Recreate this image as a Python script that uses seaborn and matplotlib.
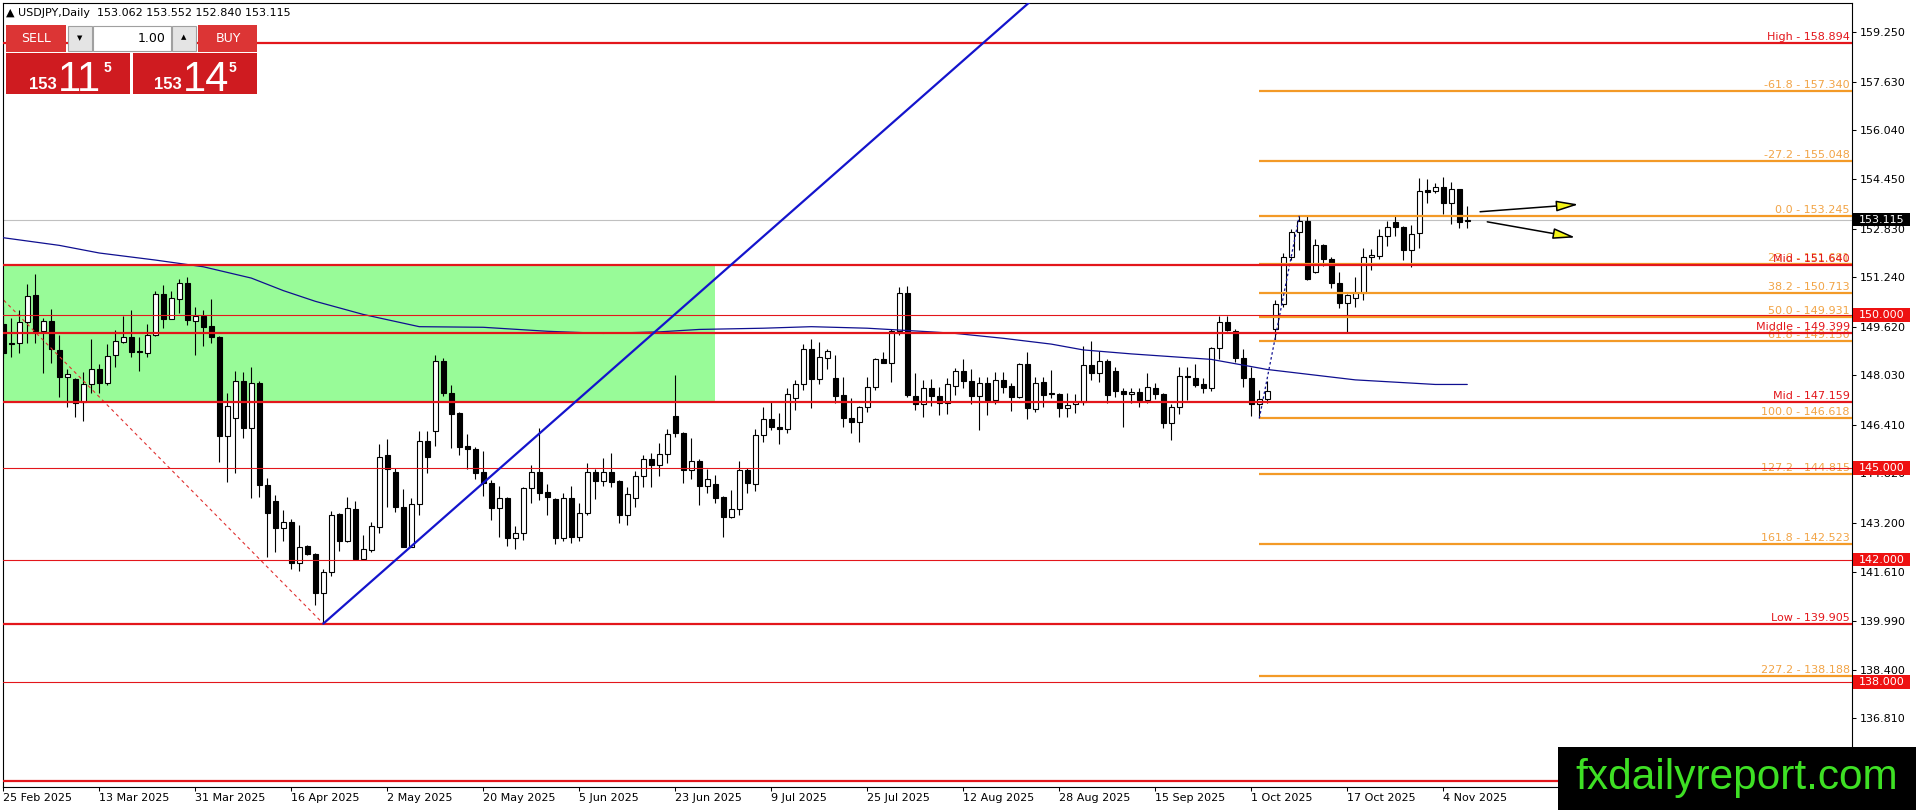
import numpy as np
import matplotlib
matplotlib.use("Agg")
import matplotlib.pyplot as plt
import matplotlib.transforms as mtransforms
from matplotlib.patches import Rectangle
import seaborn as sns

# ---------------- data ----------------
opens = [149.72, 149.10, 149.07, 149.78, 150.65, 149.49, 149.80, 148.86, 147.98, 147.90,
         147.14, 147.74, 148.22, 147.77, 148.68, 149.13, 149.29, 148.82, 148.77, 149.34,
         150.69, 149.88, 150.54, 151.06, 149.81, 149.97, 149.64, 149.29, 146.05, 146.62,
         147.84, 146.30, 147.79, 144.44, 143.92, 143.02, 143.24, 141.88, 142.44, 142.18,
         140.90, 141.58, 143.49, 142.62, 143.65, 142.01, 142.31, 143.08, 145.42, 144.86,
         143.73, 142.42, 143.81, 145.89, 146.22, 148.50, 147.46, 146.79, 145.72, 145.61,
         144.88, 144.50, 143.68, 144.01, 142.70, 142.86, 144.33, 144.88, 144.22, 143.97,
         142.70, 144.01, 142.75, 143.54, 144.86, 144.58, 144.88, 144.57, 143.46, 144.03,
         144.75, 145.28, 145.10, 145.45, 146.70, 146.13, 144.93, 145.24, 144.41, 144.46,
         144.04, 143.41, 143.65, 144.93, 144.46, 146.08, 146.59, 146.35, 146.26, 147.30,
         147.73, 148.89, 147.90, 148.59, 147.93, 147.39, 146.64, 146.51, 147.00, 147.66,
         148.55, 148.44, 149.49, 150.73, 147.35, 147.09, 147.61, 147.36, 147.11, 147.68,
         148.17, 147.84, 147.36, 147.77, 147.22, 147.88, 147.68, 147.31, 148.40, 146.92,
         147.80, 147.45, 147.41, 146.95, 147.08, 147.17, 148.37, 148.11, 148.50, 148.18,
         147.52, 147.41, 147.47, 147.22, 147.63, 147.41, 146.48, 146.98, 148.01, 147.93,
         147.75, 147.63, 148.91, 149.78, 149.49, 148.59, 147.93, 147.08, 147.24, 149.53,
         150.36, 151.89, 152.73, 153.08, 151.42, 152.29, 151.82, 151.06, 150.40, 150.55,
         150.71, 151.91, 151.93, 152.57, 153.05, 152.87, 152.13, 152.67, 154.09, 154.06,
         154.20, 153.66, 154.11, 153.062]
highs = [150.30, 149.89, 150.17, 151.02, 151.34, 149.89, 150.19, 149.35, 148.22, 147.95,
         148.15, 149.21, 148.40, 149.04, 149.51, 149.98, 150.17, 149.29, 149.71, 150.80,
         150.97, 150.80, 151.19, 151.24, 150.27, 150.17, 150.54, 149.32, 147.44, 148.18,
         148.13, 148.31, 147.85, 144.66, 144.12, 143.62, 143.32, 143.13, 142.48, 142.22,
         141.68, 143.59, 143.52, 144.06, 143.93, 142.81, 143.23, 145.78, 145.93, 144.99,
         144.31, 144.01, 146.21, 146.21, 148.69, 148.58, 147.70, 146.82, 146.10, 145.70,
         145.55, 144.60, 144.41, 144.05, 143.10, 144.36, 145.10, 146.30, 144.46, 144.00,
         144.19, 144.41, 143.86, 145.15, 144.95, 145.31, 145.50, 144.62, 144.39, 144.90,
         145.42, 145.50, 145.82, 146.26, 148.04, 146.16, 145.97, 145.28, 144.95, 144.77,
         144.08, 144.28, 145.24, 144.99, 146.26, 147.00, 147.17, 146.81, 147.60, 147.88,
         149.05, 149.21, 149.13, 148.88, 148.69, 147.96, 147.28, 147.02, 147.96, 148.59,
         148.80, 149.53, 150.91, 150.95, 148.09, 147.88, 147.90, 147.66, 147.93, 148.26,
         148.55, 148.22, 147.98, 147.98, 148.15, 148.15, 147.79, 148.44, 148.80, 147.96,
         147.96, 148.20, 147.44, 147.44, 147.42, 148.99, 149.15, 148.82, 148.55, 148.31,
         147.60, 147.60, 147.60, 148.09, 147.79, 147.45, 147.09, 148.31, 148.31, 148.40,
         147.93, 148.96, 149.97, 149.97, 149.53, 148.88, 148.29, 147.55, 147.85, 150.49,
         152.04, 152.81, 153.245, 153.24, 152.48, 152.32, 151.91, 151.42, 150.70, 151.26,
         152.18, 152.15, 152.81, 153.08, 153.24, 152.90, 152.95, 154.47, 154.44, 154.31,
         154.51, 154.36, 154.13, 153.552]
lows = [148.58, 148.64, 148.77, 149.10, 149.07, 148.11, 148.42, 147.33, 146.98, 146.66,
        146.55, 147.44, 147.44, 147.72, 148.29, 149.10, 148.62, 148.18, 148.62, 149.30,
        149.57, 149.86, 150.06, 149.67, 148.69, 149.00, 149.10, 145.20, 144.55, 144.84,
        145.97, 144.01, 144.04, 142.09, 142.26, 142.62, 141.68, 141.64, 142.15, 140.52,
        139.905, 141.47, 142.28, 142.59, 142.01, 142.00, 142.26, 142.88, 143.73, 143.57,
        142.40, 142.40, 143.46, 144.84, 145.72, 147.35, 145.64, 145.42, 144.95, 144.63,
        144.08, 143.30, 142.75, 142.45, 142.35, 142.64, 143.86, 143.95, 143.46, 142.50,
        142.60, 142.55, 142.60, 143.46, 143.97, 144.41, 144.37, 143.19, 143.13, 143.73,
        144.36, 144.37, 144.73, 145.15, 146.02, 144.52, 144.63, 143.79, 144.19, 143.84,
        142.75, 143.35, 143.46, 144.19, 144.26, 145.86, 146.24, 145.78, 146.15, 146.89,
        147.55, 146.95, 147.75, 148.22, 147.11, 146.33, 146.13, 145.86, 146.84, 147.55,
        148.42, 147.82, 149.35, 147.31, 146.89, 146.66, 147.02, 146.73, 146.77, 147.39,
        147.61, 147.09, 146.24, 146.73, 147.09, 147.44, 146.87, 147.28, 146.59, 146.84,
        147.00, 147.28, 146.68, 146.68, 146.81, 147.06, 147.88, 147.82, 147.13, 147.33,
        146.33, 147.13, 147.00, 147.13, 147.24, 146.30, 145.91, 146.77, 147.22, 147.66,
        147.46, 147.53, 148.55, 149.49, 148.46, 147.66, 146.70, 146.618, 147.13, 149.19,
        150.27, 151.80, 152.13, 151.15, 151.38, 151.60, 150.90, 150.22, 149.42, 150.27,
        150.49, 151.47, 151.82, 152.26, 152.57, 151.80, 151.58, 152.18, 153.68, 153.98,
        153.31, 152.98, 152.84, 152.840]
closes = [148.75, 149.05, 149.78, 150.63, 149.49, 149.80, 148.88, 147.98, 148.07, 147.13,
          147.74, 148.22, 147.77, 148.66, 149.15, 149.27, 148.80, 148.78, 149.35, 150.69,
          149.88, 150.55, 151.04, 149.84, 149.97, 149.62, 149.29, 146.05, 147.03, 147.84,
          146.30, 147.79, 144.44, 143.52, 143.02, 143.22, 141.88, 142.42, 142.17, 140.90,
          141.58, 143.46, 142.62, 143.68, 142.03, 142.34, 143.10, 145.37, 144.95, 143.71,
          142.42, 143.81, 145.89, 145.37, 148.50, 147.44, 146.75, 145.70, 145.63, 144.84,
          144.50, 143.68, 144.01, 142.70, 142.86, 144.33, 144.88, 144.19, 144.06, 142.70,
          144.01, 142.75, 143.54, 144.86, 144.58, 144.88, 144.55, 143.46, 144.14, 144.75,
          145.28, 145.10, 145.45, 146.11, 146.13, 144.93, 145.24, 144.41, 144.64, 144.03,
          143.41, 143.65, 144.93, 144.50, 146.08, 146.59, 146.33, 146.26, 147.41, 147.73,
          148.88, 147.90, 148.62, 148.83, 147.35, 146.62, 146.51, 147.00, 147.66, 148.55,
          148.44, 149.49, 150.73, 147.39, 147.09, 147.61, 147.36, 147.11, 147.73, 148.17,
          147.84, 147.36, 147.77, 147.22, 147.88, 147.66, 147.33, 148.40, 146.95, 147.79,
          147.39, 147.43, 146.95, 147.05, 147.17, 148.37, 148.11, 148.50, 147.39, 147.53,
          147.41, 147.47, 147.22, 147.66, 147.41, 146.48, 146.98, 148.01, 147.98, 147.71,
          147.63, 148.91, 149.78, 149.51, 148.59, 147.93, 147.08, 147.24, 147.52, 150.35,
          151.89, 152.73, 153.08, 151.17, 152.29, 151.82, 151.06, 150.40, 150.66, 150.71,
          151.91, 151.96, 152.57, 152.87, 152.87, 152.13, 152.65, 154.07, 154.03, 154.20,
          153.66, 154.11, 153.06, 153.115]

date_labels = ["25 Feb 2025", "13 Mar 2025", "31 Mar 2025", "16 Apr 2025", "2 May 2025",
               "20 May 2025", "5 Jun 2025", "23 Jun 2025", "9 Jul 2025", "25 Jul 2025",
               "12 Aug 2025", "28 Aug 2025", "15 Sep 2025", "1 Oct 2025", "17 Oct 2025",
               "4 Nov 2025"]
price_ticks = [159.250, 157.630, 156.040, 154.450, 152.830, 151.240, 149.620, 148.030,
               146.410, 144.820, 143.200, 141.610, 139.990, 138.400, 136.810]

# moving average (read at selected bars)
ma_bars = [0, 7, 12, 19, 25, 31, 35, 39, 45, 52, 60, 68, 75, 82, 87, 95, 101, 108, 116,
           119, 125, 131, 135, 141, 151, 158, 169, 179, 183]
ma_vals = [152.53, 152.28, 152.03, 151.80, 151.58, 151.21, 150.80, 150.45, 150.02, 149.62,
           149.60, 149.47, 149.40, 149.45, 149.53, 149.57, 149.62, 149.57, 149.45, 149.40,
           149.24, 149.05, 148.86, 148.73, 148.55, 148.22, 147.88, 147.73, 147.73]

# horizontal levels
red_levels = [158.894, 151.640, 149.399, 147.159, 139.905]
red_names = ["High", "Mid", "Middle", "Mid", "Low"]
round_levels = [150.000, 145.000, 142.000, 138.000]
bottom_level = 134.76
fib_pct = ["-61.8", "-27.2", "0.0", "23.6", "38.2", "50.0", "61.8", "100.0", "127.2", "161.8", "227.2"]
fib_levels = [157.340, 155.048, 153.245, 151.681, 150.713, 149.931, 149.150, 146.618, 144.815, 142.523, 138.188]
fib_start_bar = 157
fib_trend_bars = [157, 162]
fib_trend_prices = [146.618, 153.245]
trend_bars = [40, 71.5]
trend_prices = [139.905, 147.159]
dash_bars = [0, 40]
dash_prices = [150.50, 139.905]
box_bars = [-5, 89]
box_prices = [147.159, 151.640]
last_price = 153.115
header = "\u25B2 USDJPY,Daily  153.062 153.552 152.840 153.115"
arrow1 = [(184.6, 153.38), (196.9, 153.62)]
arrow2 = [(185.5, 153.05), (196.5, 152.54)]

# ---------------- style ----------------
sns.set_style("white")
plt.rcParams['font.family'] = ['DejaVu Sans']

W, H = 1916, 810
fig = plt.figure(figsize=(W / 100, H / 100), dpi=100)
ax_l, ax_r, ax_t, ax_b = 2.7, 1852.0, 2.7, 786.7
ax = fig.add_axes([ax_l / W, 1 - ax_b / H, (ax_r - ax_l) / W, (ax_b - ax_t) / H])
ax.set_facecolor('white')

RED = '#e3161b'
ORANGE = '#f39a27'
ORANGE_TXT = '#f2a446'

ax.set_xlim(-0.075, 231.09)
ax.set_ylim(134.572, 160.218)

# background rectangle
ax.add_patch(Rectangle((box_bars[0], box_prices[0]), box_bars[1] - box_bars[0],
                       box_prices[1] - box_prices[0], fc='#98fb98', ec='none', zorder=0.5))

# candles
o = np.array(opens); h = np.array(highs); l = np.array(lows); c = np.array(closes)
idx = np.arange(len(o))
up = c >= o
ax.vlines(idx, l, h, color='black', lw=0.8, zorder=2)
bb = np.minimum(o, c)
bh = np.maximum(np.abs(c - o), 0.015)
ax.bar(idx[up], bh[up], bottom=bb[up], width=0.6, color='white', edgecolor='black', lw=0.8, zorder=2.1)
ax.bar(idx[~up], bh[~up], bottom=bb[~up], width=0.6, color='black', edgecolor='black', lw=0.8, zorder=2.1)

# current price line
ax.axhline(last_price, color='#c0c0c0', lw=0.8, zorder=1.5)

# moving average
sns.lineplot(x=ma_bars, y=ma_vals, ax=ax, color='#0f0f90', lw=0.9, zorder=3)

# fib levels
for lv in fib_levels:
    ax.hlines(lv, fib_start_bar, 240, color=ORANGE, lw=1.6, zorder=3.2)
ax.plot(fib_trend_bars, fib_trend_prices, color='#101090', lw=0.9, ls=(0, (2, 2)), zorder=3.3)

# red lines
for lv in red_levels:
    ax.axhline(lv, color=RED, lw=1.6, zorder=3.5)
for lv in round_levels:
    ax.axhline(lv, color=RED, lw=0.8, zorder=3.5)
ax.axhline(bottom_level, color=RED, lw=1.6, zorder=3.5)

# blue trend line (ray)
slope = (trend_prices[1] - trend_prices[0]) / (trend_bars[1] - trend_bars[0])
tx = np.array([trend_bars[0], 140])
ax.plot(tx, trend_prices[0] + slope * (tx - trend_bars[0]), color='#1414cc', lw=1.6, zorder=3.6)

# red dotted line
dslope = (dash_prices[1] - dash_prices[0]) / (dash_bars[1] - dash_bars[0])
dx = np.array([-3, dash_bars[1]])
ax.plot(dx, dash_prices[0] + dslope * (dx - dash_bars[0]), color='#e03030', lw=0.8,
        ls=(0, (3, 3)), zorder=2.5)

# level labels
blend = mtransforms.blended_transform_factory(ax.transAxes, ax.transData)
for pct, lv in zip(fib_pct, fib_levels):
    ax.annotate(f"{pct} - {lv:.3f}", xy=(1.0, lv), xycoords=blend, xytext=(-1.5, 2.2),
                textcoords='offset points', ha='right', va='baseline', fontsize=8,
                color=ORANGE_TXT, zorder=3.4, annotation_clip=False)
for nm, lv in zip(red_names, red_levels):
    ax.annotate(f"{nm} - {lv:.3f}", xy=(1.0, lv), xycoords=blend, xytext=(-1.5, 2.2),
                textcoords='offset points', ha='right', va='baseline', fontsize=8,
                color=RED, zorder=3.7, annotation_clip=False)

# arrows
for (a0, a1) in (arrow1, arrow2):
    ax.annotate('', xy=a1, xytext=a0,
                arrowprops=dict(arrowstyle='-|>,head_length=1.35,head_width=0.33',
                                fc='#f5f519', ec='black', lw=1.1, shrinkA=0, shrinkB=0),
                zorder=4)

# axes styling
ax.yaxis.tick_right()
ax.set_yticks(price_ticks)
ax.set_yticklabels([f"{v:.3f}" for v in price_ticks])
ax.set_xticks(list(range(0, 12 * len(date_labels), 12)))
ax.set_xticklabels(date_labels)
for lab in ax.get_xticklabels():
    lab.set_ha('left')
ax.tick_params(axis='y', right=True, left=False, length=3, width=0.75, pad=2.5,
               labelsize=8, colors='black')
ax.tick_params(axis='x', bottom=True, length=3, width=0.75, pad=1.5, labelsize=8,
               colors='black')
for sp in ax.spines.values():
    sp.set_visible(True)
    sp.set_color('black')
    sp.set_linewidth(0.8)
ax.set_xlabel('')
ax.set_ylabel('')
ax.grid(False)

# price boxes on the right axis
def xa(px):
    return (px - ax_l) / (ax_r - ax_l)

bh_price = 13.3 / 30.57
for lv in round_levels + [last_price]:
    fc = 'black' if lv == last_price else '#ee1111'
    ax.add_patch(Rectangle((xa(1853), lv - bh_price / 2), xa(1910) - xa(1853), bh_price,
                           transform=blend, fc=fc, ec='none', zorder=10, clip_on=False))
    ax.text(xa(1858.5), lv, f"{lv:.3f}", transform=blend, color='white', fontsize=8,
            ha='left', va='center', zorder=11, clip_on=False)

# ---------------- figure-level decorations ----------------
def fr(x0, y0, x1, y1, **kw):
    fig.add_artist(Rectangle((x0 / W, 1 - y1 / H), (x1 - x0) / W, (y1 - y0) / H,
                             transform=fig.transFigure, **kw))

def ft(x, y, s, **kw):
    fig.text(x / W, 1 - y / H, s, **kw)

ft(6, 13.5, header, fontsize=8, color='black', ha='left', va='center', zorder=25)

# trade panel
fr(6, 25, 66, 52, fc='#dc3535', ec='none', zorder=20)
fr(198, 25, 257, 52, fc='#dc3535', ec='none', zorder=20)
fr(68, 26, 92, 51, fc='#e4e4e4', ec='#a0a0a0', lw=0.8, zorder=20)
fr(93, 26, 171, 51, fc='white', ec='#a0a0a0', lw=0.8, zorder=20)
fr(172, 26, 196, 51, fc='#e4e4e4', ec='#a0a0a0', lw=0.8, zorder=20)
fr(6, 53, 130, 94, fc='#cf1b20', ec='none', zorder=20)
fr(133, 53, 257, 94, fc='#cf1b20', ec='none', zorder=20)
ft(36, 39, 'SELL', fontsize=9, color='white', ha='center', va='center', zorder=21)
ft(228, 39, 'BUY', fontsize=9, color='white', ha='center', va='center', zorder=21)
ft(80, 38.5, '\u25BC', fontsize=5, color='black', ha='center', va='center', zorder=21)
ft(184, 37.5, '\u25B2', fontsize=5, color='black', ha='center', va='center', zorder=21)
ft(166, 38, '1.00', fontsize=9, color='black', ha='right', va='center', zorder=21)
for xs, big in ((29, '11'), (154, '14')):
    ft(xs, 89, '153', fontsize=12, color='white', weight='bold', family='Liberation Sans',
       ha='left', va='baseline', zorder=21)
    ft(xs + 29, 91, big, fontsize=30, color='white', family='Liberation Sans',
       ha='left', va='baseline', zorder=21)
    ft(xs + 75, 72, '5', fontsize=10, color='white', weight='bold', family='Liberation Sans',
       ha='left', va='baseline', zorder=21)

# watermark box
fr(1558, 747, 1916, 810, fc='black', ec='none', zorder=30)
ft(1736.5, 789, 'fxdailyreport.com', fontsize=30.5, color='#3ee024',
   family='Liberation Sans', ha='center', va='baseline', zorder=31)

fig.savefig('out.png', dpi=100, facecolor='white')
